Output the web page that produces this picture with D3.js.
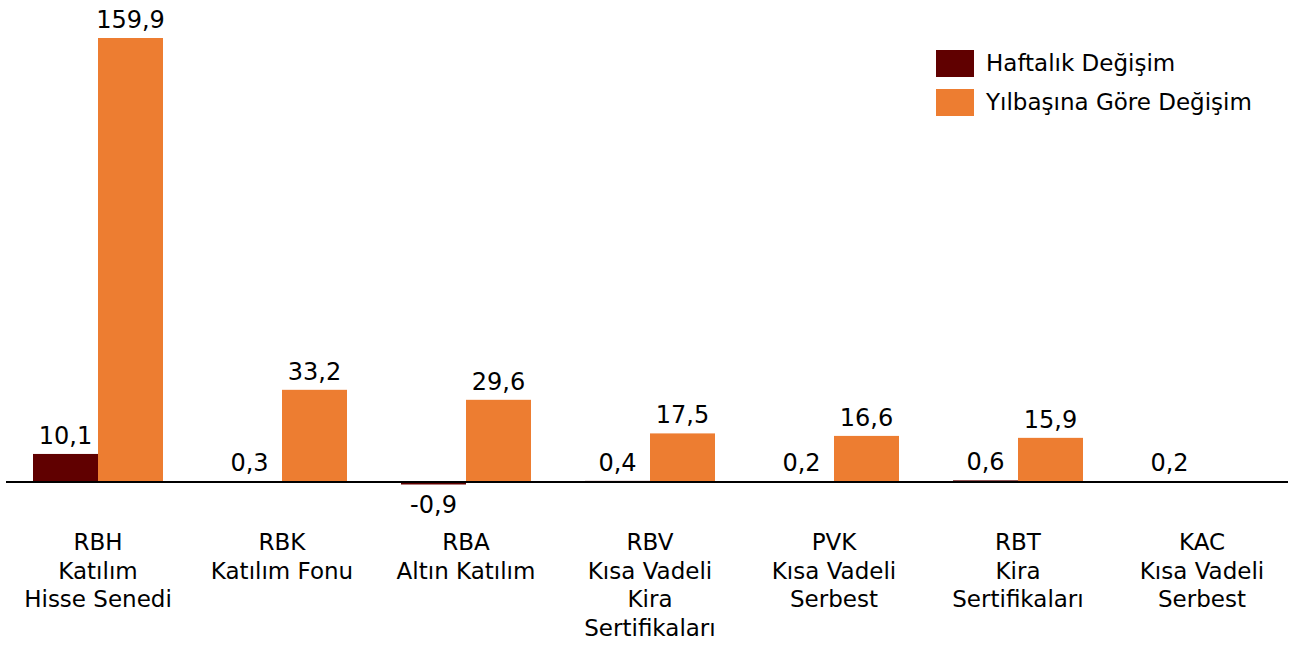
<!DOCTYPE html>
<html>
<head>
<meta charset="utf-8">
<script src="https://cdn.jsdelivr.net/npm/d3@7"></script>
<style>
  body { margin: 0; background: #fff; }
  text { font-family: "DejaVu Sans", sans-serif; fill: #000; }
</style>
</head>
<body>
<script>
// data
const funds = ["RBH", "RBK", "RBA", "RBV", "PVK", "RBT", "KAC"];
const fundNames = [
  ["RBH", "Katılım", "Hisse Senedi"],
  ["RBK", "Katılım Fonu"],
  ["RBA", "Altın Katılım"],
  ["RBV", "Kısa Vadeli", "Kira", "Sertifikaları"],
  ["PVK", "Kısa Vadeli", "Serbest"],
  ["RBT", "Kira", "Sertifikaları"],
  ["KAC", "Kısa Vadeli", "Serbest"]
];
const weekly = [10.1, 0.3, -0.9, 0.4, 0.2, 0.6, 0.2];
const ytd = [159.9, 33.2, 29.6, 17.5, 16.6, 15.9, null];
const seriesNames = ["Haftalık Değişim", "Yılbaşına Göre Değişim"];
const seriesColors = ["#600000", "#ED7D31"];

const width = 1299,
      height = 646,
      baseY = 482;

const svg = d3.select("body").append("svg")
  .attr("width", width)
  .attr("height", height);

const x0 = d3.scaleBand().domain(funds).range([6, 1294]);
const x1 = d3.scaleBand().domain([0, 1]).range([x0.bandwidth() / 2 - 65, x0.bandwidth() / 2 + 65]);
const y = d3.scaleLinear().domain([0, 159.9]).range([baseY, 38]);

const fmt = v => d3.format(".1f")(v).replace(".", ",").replace("−", "-");

const rows = funds.map((f, i) => ({ fund: f, vals: [weekly[i], ytd[i]] }));

const group = svg.append("g").selectAll("g")
  .data(rows)
  .join("g")
  .attr("transform", d => `translate(${x0(d.fund)},0)`);

group.selectAll("rect")
  .data(d => d.vals.map((v, k) => ({ v, k })).filter(e => e.v != null))
  .join("rect")
  .attr("x", e => x1(e.k))
  .attr("width", x1.bandwidth())
  .attr("y", e => Math.min(y(e.v), y(0)))
  .attr("height", e => Math.abs(y(e.v) - y(0)))
  .attr("fill", e => seriesColors[e.k]);

group.selectAll("text.val")
  .data(d => d.vals.map((v, k) => ({ v, k })).filter(e => e.v != null))
  .join("text")
  .attr("class", "val")
  .attr("x", e => x1(e.k) + x1.bandwidth() / 2)
  .attr("y", e => e.v >= 0 ? y(e.v) - 10 : y(e.v) + 29)
  .attr("text-anchor", "middle")
  .style("font-size", "24px")
  .text(e => fmt(e.v));

// baseline
svg.append("line")
  .attr("x1", 6).attr("x2", 1288)
  .attr("y1", y(0)).attr("y2", y(0))
  .attr("stroke", "#000")
  .attr("stroke-width", 2);

// category labels
const cat = svg.append("g").selectAll("text")
  .data(funds)
  .join("text")
  .attr("text-anchor", "middle")
  .attr("x", d => x0(d) + x0.bandwidth() / 2)
  .attr("y", 550)
  .style("font-size", "23px");

cat.selectAll("tspan")
  .data((d, i) => fundNames[i])
  .join("tspan")
  .attr("x", function() { return this.parentNode.getAttribute("x"); })
  .attr("dy", (d, j) => j === 0 ? 0 : 28.5)
  .text(d => d);

// legend
const legend = svg.append("g").selectAll("g")
  .data(seriesNames)
  .join("g")
  .attr("transform", (d, i) => `translate(936,${50 + i * 39})`);

legend.append("rect")
  .attr("width", 38).attr("height", 27)
  .attr("fill", (d, i) => seriesColors[i]);

legend.append("text")
  .attr("x", 50).attr("y", 21)
  .style("font-size", "23px")
  .text(d => d);
</script>
</body>
</html>
